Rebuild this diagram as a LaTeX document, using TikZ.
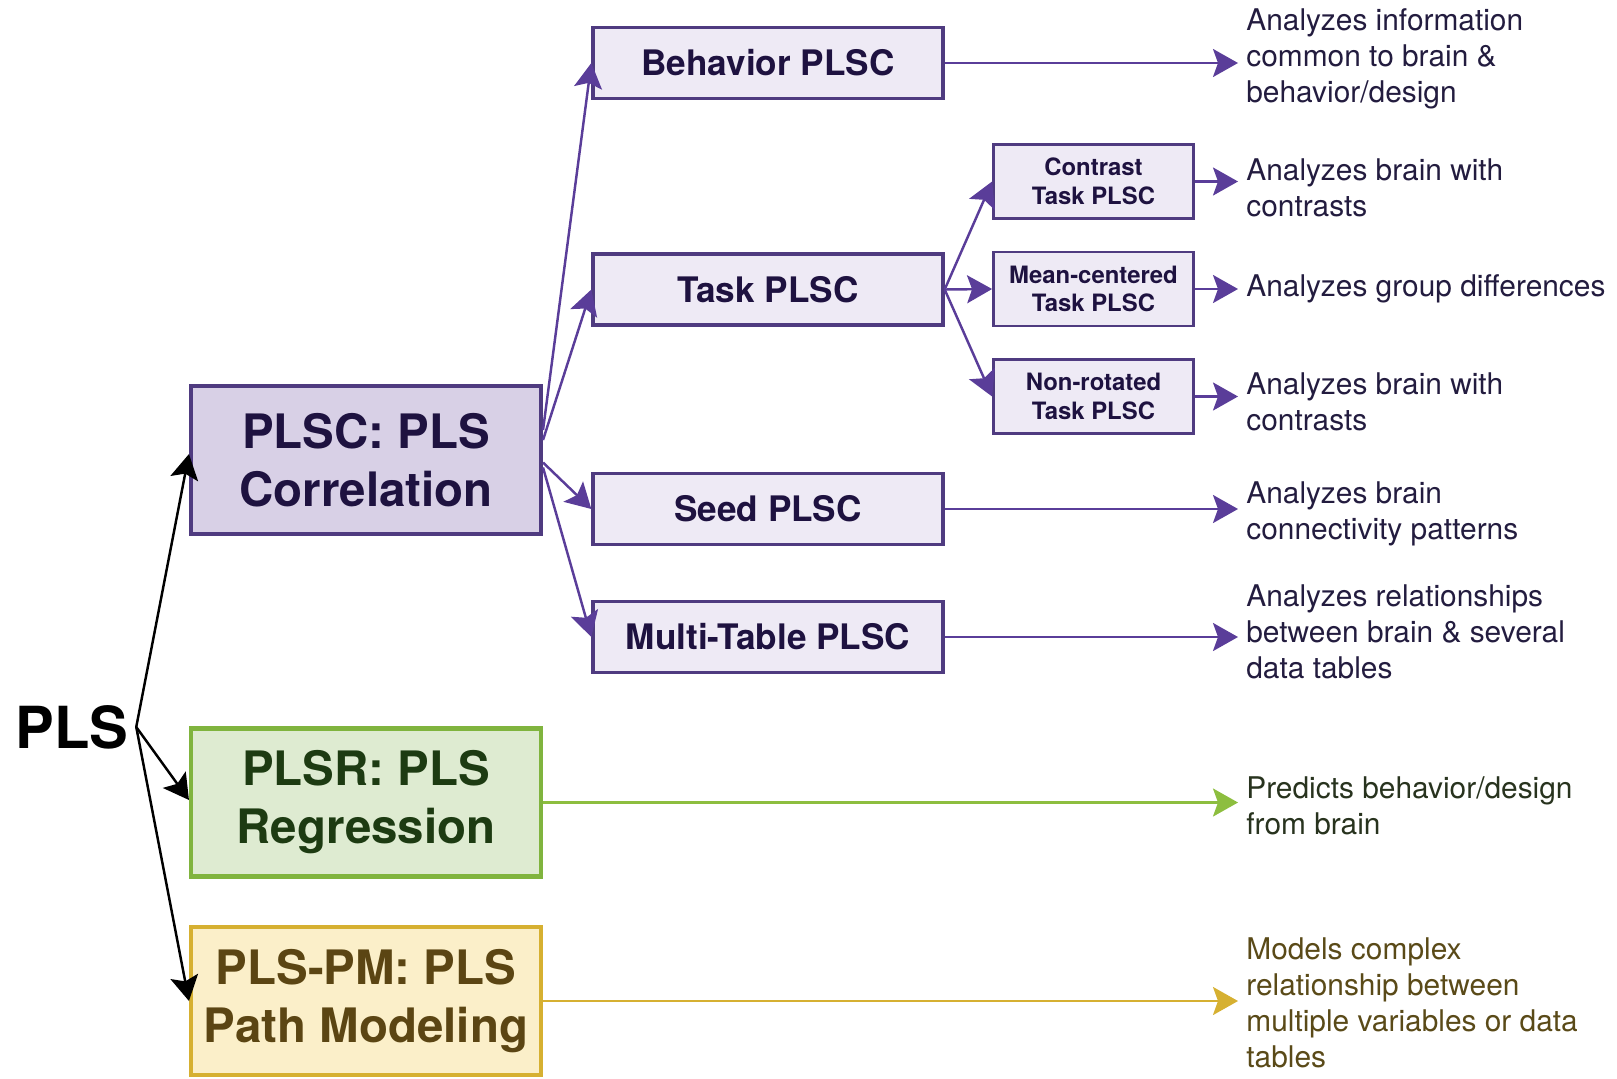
\documentclass[tikz,border=0pt]{standalone}
\usepackage{fontspec}
\setmainfont{TeX Gyre Heros}
\usetikzlibrary{arrows.meta}
\definecolor{plscline}{HTML}{4F3B80}
\definecolor{plscfill}{HTML}{D8D0E6}
\definecolor{plsclight}{HTML}{EEEAF5}
\definecolor{plsctext}{HTML}{1E1240}
\definecolor{plscarrow}{HTML}{5A3D99}
\definecolor{plscdesc}{HTML}{231C3F}
\definecolor{plsrline}{HTML}{80B43E}
\definecolor{plsrarr}{HTML}{8DBE3F}
\definecolor{plsrfill}{HTML}{DEEBD1}
\definecolor{plsrtext}{HTML}{1D3B12}
\definecolor{plsrdesc}{HTML}{28331E}
\definecolor{pmline}{HTML}{D6B031}
\definecolor{pmfill}{HTML}{FBEFC9}
\definecolor{pmtext}{HTML}{5B4513}
\definecolor{pmdesc}{HTML}{5A4A18}
\tikzset{
  plsbig/.style={draw=plscline, line width=2.3pt, align=center, inner sep=0pt,
    font=\bfseries\fontsize{27}{33}\selectfont, minimum width=7.0cm, minimum height=2.96cm},
  plscbox/.style={plsbig, fill=plscfill, text=plsctext},
  plsrbox/.style={plsbig, draw=plsrline, fill=plsrfill, text=plsrtext},
  pmbox/.style={plsbig, draw=pmline, fill=pmfill, text=pmtext},
  plsmid/.style={draw=plscline, line width=1.9pt, fill=plsclight, text=plsctext, align=center,
    inner sep=0pt, font=\bfseries\fontsize{20}{24}\selectfont, minimum width=7.0cm, minimum height=1.42cm},
  plssmall/.style={plsmid, line width=1.6pt, font=\bfseries\fontsize{13.6}{16.4}\selectfont,
    minimum width=4.0cm, minimum height=1.48cm},
  plsdesc/.style={anchor=west, align=left, inner xsep=0.16cm, inner ysep=0pt,
    font=\fontsize{17}{20.5}\selectfont, text=plscdesc},
  plstip/.style={-{Stealth[length=0.5cm, width=0.56cm, inset=0.1cm]}, line width=1.4pt},
  plsarrow/.style={plstip, draw=plscarrow, fill=plscarrow},
  plsrarrow/.style={plstip, draw=plsrarr, fill=plsrarr},
  pmarrow/.style={plstip, draw=pmline, fill=pmline},
  rootarrow/.style={plstip, draw=black, fill=black}
}
\begin{document}
\begin{tikzpicture}
  \useasboundingbox (0,0) rectangle (32.34,-21.56);
  \node[font=\bfseries\fontsize{33}{33}\selectfont, inner sep=0.15cm] (pls) at (1.44,-14.54) {PLS};
  \node[plscbox] (plsc) at (7.32,-9.2) {PLSC: PLS\\Correlation};
  \node[plsrbox] (plsr) at (7.32,-16.05) {PLSR: PLS\\Regression};
  \node[pmbox] (plspm) at (7.32,-20.02) {PLS-PM: PLS\\Path Modeling};
  \node[plsmid] (behav) at (15.36,-1.26) {Behavior PLSC};
  \node[plsmid] (task) at (15.36,-5.79) {Task PLSC};
  \node[plsmid] (seed) at (15.36,-10.18) {Seed PLSC};
  \node[plsmid] (multi) at (15.36,-12.74) {Multi-Table PLSC};
  \node[plssmall] (contr) at (21.87,-3.63) {Contrast\\Task PLSC};
  \node[plssmall] (meanc) at (21.87,-5.78) {Mean-centered\\Task PLSC};
  \node[plssmall] (nonrot) at (21.87,-7.93) {Non-rotated\\Task PLSC};
  % descriptions
  \node[plsdesc] (d1) at (24.76,-1.18) {Analyzes information\\common to brain \&\\behavior/design};
  \node[plsdesc] (d2) at (24.76,-3.76) {Analyzes brain with\\contrasts};
  \node[plsdesc] (d3) at (24.76,-5.78) {Analyzes group differences};
  \node[plsdesc] (d4) at (24.76,-8.04) {Analyzes brain with\\contrasts};
  \node[plsdesc] (d5) at (24.76,-10.28) {Analyzes brain\\connectivity patterns};
  \node[plsdesc] (d6) at (24.76,-12.64) {Analyzes relationships\\between brain \& several\\data tables};
  \node[plsdesc, text=plsrdesc] (d7) at (24.76,-16.12) {Predicts behavior/design\\from brain};
  \node[plsdesc, text=pmdesc] (d8) at (24.76,-20.06) {Models complex\\relationship between\\multiple variables or data\\tables};
  \draw[rootarrow] (pls.east) -- ([yshift=0.12cm]plsc.west);
  \draw[rootarrow] (pls.east) -- ([yshift=0.05cm]plsr.west);
  \draw[rootarrow] (pls.east) -- (plspm.west);
  \draw[plsarrow] ([yshift=0.6cm]plsc.east) -- (behav.west);
  \draw[plsarrow] ([yshift=0.4cm]plsc.east) -- (task.west);
  \draw[plsarrow] ([yshift=-0.05cm]plsc.east) -- (seed.west);
  \draw[plsarrow] ([yshift=-0.15cm]plsc.east) -- (multi.west);
  \draw[plsarrow] (task.east) -- (contr.west);
  \draw[plsarrow] (task.east) -- (meanc.west);
  \draw[plsarrow] (task.east) -- (nonrot.west);
  \draw[plsarrow] (behav.east) -- (behav.east -| d1.west);
  \draw[plsarrow] (contr.east) -- (contr.east -| d2.west);
  \draw[plsarrow] (meanc.east) -- (meanc.east -| d3.west);
  \draw[plsarrow] (nonrot.east) -- (nonrot.east -| d4.west);
  \draw[plsarrow] (seed.east) -- (seed.east -| d5.west);
  \draw[plsarrow] (multi.east) -- (multi.east -| d6.west);
  \draw[plsrarrow] (plsr.east) -- (plsr.east -| d7.west);
  \draw[pmarrow] (plspm.east) -- (plspm.east -| d8.west);
\end{tikzpicture}
\end{document}
